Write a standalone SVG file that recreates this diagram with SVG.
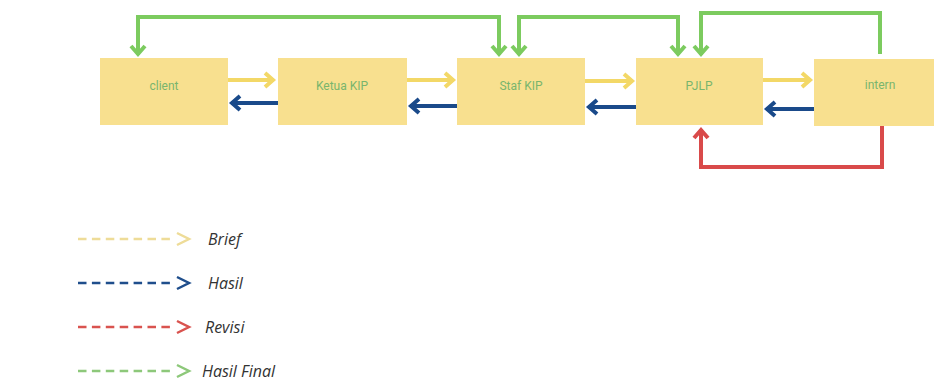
<svg xmlns="http://www.w3.org/2000/svg" width="934" height="381" viewBox="0 0 934 381">
  <style>
    .box { fill: #F8E08F; }
    .lbl { font-family: Roboto, "Liberation Sans", sans-serif; font-size: 12px; fill: #79B56D; text-anchor: middle; }
    .c { fill: none; stroke-width: 4; }
    .y { stroke: #F3D867; }
    .b { stroke: #1A4A8A; }
    .g { stroke: #7CCB5F; }
    .r { stroke: #D94A4A; }
    .leg { font-family: "Open Sans", Lato, sans-serif; font-style: italic; font-size: 16px; fill: #333333; }
    .dash { fill: none; stroke-width: 2.5; stroke-dasharray: 8.5 5.4; }
    .chev { fill: none; stroke-width: 2.5; }
  </style>
  <defs>
    <linearGradient id="edge" x1="0" y1="0" x2="0" y2="1">
      <stop offset="0" stop-color="#a9c0de" stop-opacity="0"/>
      <stop offset="0.4" stop-color="#8fb0d8" stop-opacity="1"/>
      <stop offset="1" stop-color="#a9c0de" stop-opacity="0"/>
    </linearGradient>
    <marker id="ay" markerUnits="userSpaceOnUse" markerWidth="24" markerHeight="24" refX="12" refY="12" orient="auto-start-reverse">
      <path d="M3,5 L11,12 L3,19" fill="none" stroke="#F3D867" stroke-width="4"/>
    </marker>
    <marker id="ab" markerUnits="userSpaceOnUse" markerWidth="24" markerHeight="24" refX="12" refY="12" orient="auto-start-reverse">
      <path d="M3,5 L11,12 L3,19" fill="none" stroke="#1A4A8A" stroke-width="4"/>
    </marker>
    <marker id="ag" markerUnits="userSpaceOnUse" markerWidth="24" markerHeight="24" refX="12" refY="12" orient="auto-start-reverse">
      <path d="M3,5 L11,12 L3,19" fill="none" stroke="#7CCB5F" stroke-width="4"/>
    </marker>
    <marker id="ar" markerUnits="userSpaceOnUse" markerWidth="24" markerHeight="24" refX="12" refY="12" orient="auto-start-reverse">
      <path d="M3,5 L11,12 L3,19" fill="none" stroke="#D94A4A" stroke-width="4"/>
    </marker>
  </defs>
  <rect width="934" height="381" fill="#ffffff"/>
  <line x1="11" y1="30" x2="11" y2="112" stroke="url(#edge)" stroke-width="2"/>

  <g id="node-client"><rect class="box" x="100" y="58" width="128" height="67"/><text class="lbl" x="164" y="90">client</text></g>
  <g id="node-ketua"><rect class="box" x="278" y="58" width="129" height="67"/><text class="lbl" x="342" y="90">Ketua KIP</text></g>
  <g id="node-staf"><rect class="box" x="457" y="58" width="128" height="67"/><text class="lbl" x="521" y="90">Staf KIP</text></g>
  <g id="node-pjlp"><rect class="box" x="636" y="58" width="127" height="67"/><text class="lbl" x="699" y="90">PJLP</text></g>
  <g id="node-intern"><rect class="box" x="814" y="59" width="120" height="67"/><text class="lbl" x="880" y="89">intern</text></g>

  <g id="connectors">
    <path class="c y" d="M228,80 H274" marker-end="url(#ay)"/>
    <path class="c y" d="M407,80 H454" marker-end="url(#ay)"/>
    <path class="c y" d="M585,81 H633" marker-end="url(#ay)"/>
    <path class="c y" d="M763,80 H811" marker-end="url(#ay)"/>
    <path class="c b" d="M278,103 H231" marker-end="url(#ab)"/>
    <path class="c b" d="M457,106 H410" marker-end="url(#ab)"/>
    <path class="c b" d="M636,107 H588" marker-end="url(#ab)"/>
    <path class="c b" d="M814,109 H766" marker-end="url(#ab)"/>
    <path class="c g" d="M138,55 V17 H499 V55" marker-start="url(#ag)" marker-end="url(#ag)"/>
    <path class="c g" d="M519,55 V17 H678 V55" marker-start="url(#ag)" marker-end="url(#ag)"/>
    <path class="c g" d="M880,54 V13 H701 V55" marker-end="url(#ag)"/>
    <path class="c r" d="M882,126 V167 H701 V129" marker-end="url(#ar)"/>
  </g>

  <g id="legend">
    <g id="legend-brief">
      <path class="dash" stroke="#EEDC98" d="M78,239 H170"/>
      <path class="chev" stroke="#EEDC98" d="M177,233 L189,239 L177,245"/>
      <text class="leg" x="208" y="245">Brief</text>
    </g>
    <g id="legend-hasil">
      <path class="dash" stroke="#1F4E8C" d="M78,283 H170"/>
      <path class="chev" stroke="#1F4E8C" d="M177,277 L189,283 L177,289"/>
      <text class="leg" x="208" y="289">Hasil</text>
    </g>
    <g id="legend-revisi">
      <path class="dash" stroke="#D9534F" d="M78,327 H170"/>
      <path class="chev" stroke="#D9534F" d="M177,321 L189,327 L177,333"/>
      <text class="leg" x="205" y="333">Revisi</text>
    </g>
    <g id="legend-final">
      <path class="dash" stroke="#8DC87A" d="M78,371 H170"/>
      <path class="chev" stroke="#8DC87A" d="M177,365 L189,371 L177,377"/>
      <text class="leg" x="202" y="377">Hasil Final</text>
    </g>
  </g>
</svg>
